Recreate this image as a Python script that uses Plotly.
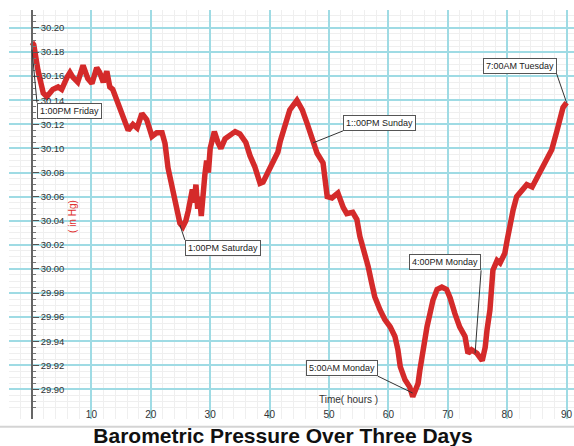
import plotly.graph_objects as go

# ---- data ----
hours = [0.0, 0.3, 1.0, 1.9, 2.5, 3.0, 3.5, 4.4, 5.0, 5.9, 6.4, 6.9, 7.7, 8.6, 9.4,
         10.1, 10.9, 11.4, 12.0, 12.6, 13.1, 13.6, 14.3, 14.8, 15.7, 16.2, 17.0,
         17.7, 18.5, 19.3, 20.2, 21.0, 21.9, 22.4, 22.9, 23.7, 24.6, 24.9, 25.4,
         25.9, 26.3, 26.7, 27.0, 27.3, 27.6, 27.9, 28.2, 28.5, 28.8, 29.1, 29.4,
         29.7, 30.0, 30.3, 30.7, 31.3, 31.8, 32.5, 33.3, 34.2, 35.0, 35.5, 36.0,
         36.7, 37.5, 38.4, 38.9, 39.7, 40.6, 41.4, 41.8, 42.6, 43.4, 44.6, 45.5,
         46.3, 47.1, 47.6, 48.0, 49.0, 49.3, 49.7, 50.5, 51.5, 52.4, 53.0, 54.0,
         54.7, 55.2, 56.1, 56.6, 57.2, 57.7, 58.6, 59.4, 60.3, 61.1, 61.6, 62.0,
         62.8, 63.6, 64.1, 64.5, 65.0, 65.3, 65.8, 66.5, 67.0, 67.5, 68.2, 69.0,
         69.8, 70.4, 71.2, 72.0, 72.9, 73.4, 74.0, 74.9, 75.8, 76.3, 76.6, 77.1,
         77.6, 78.3, 78.8, 79.6, 80.0, 80.5, 81.0, 81.6, 82.5, 83.3, 84.2, 85.0,
         85.9, 86.7, 87.5, 88.4, 88.9, 89.4, 90.0]
pressure = [30.188, 30.186, 30.165, 30.146, 30.143, 30.147, 30.149, 30.151, 30.149,
            30.159, 30.163, 30.159, 30.155, 30.169, 30.158, 30.154, 30.167, 30.163,
            30.155, 30.164, 30.151, 30.149, 30.140, 30.132, 30.121, 30.115, 30.120,
            30.117, 30.129, 30.124, 30.110, 30.113, 30.113, 30.104, 30.084, 30.066,
            30.049, 30.038, 30.035, 30.040, 30.048, 30.058, 30.066, 30.055, 30.070,
            30.050, 30.060, 30.044, 30.068, 30.078, 30.090, 30.080, 30.100, 30.108,
            30.114, 30.105, 30.100, 30.108, 30.111, 30.114, 30.112, 30.109, 30.105,
            30.094, 30.085, 30.071, 30.072, 30.080, 30.088, 30.097, 30.106, 30.118,
            30.132, 30.140, 30.132, 30.121, 30.110, 30.101, 30.096, 30.088, 30.076,
            30.060, 30.059, 30.063, 30.051, 30.046, 30.047, 30.041, 30.027, 30.013,
            30.002, 29.988, 29.977, 29.966, 29.958, 29.952, 29.944, 29.933, 29.919,
            29.908, 29.902, 29.894, 29.900, 29.905, 29.916, 29.933, 29.952, 29.963,
            29.974, 29.983, 29.985, 29.983, 29.976, 29.963, 29.952, 29.944, 29.930,
            29.933, 29.930, 29.924, 29.935, 29.949, 29.966, 29.999, 30.007, 30.005,
            30.013, 30.024, 30.038, 30.049, 30.060, 30.066, 30.070, 30.068, 30.076,
            30.085, 30.093, 30.099, 30.115, 30.126, 30.134, 30.138]

x_tick_values = [10, 20, 30, 40, 50, 60, 70, 80, 90]

event_labels = ["1:00PM Friday", "1:00PM Saturday", "1::00PM Sunday",
                "5:00AM Monday", "4:00PM Monday", "7:00AM Tuesday"]
event_hours = [0.0, 24.9, 47.3, 64.1, 74.6, 90.0]
event_values = [30.182, 30.0365, 30.1046, 29.897, 29.930, 30.138]

title_text = "Barometric Pressure Over Three Days"

# ---- figure ----
X_MIN, X_MAX = -3.87, 91.25
Y_MIN, Y_MAX = 29.8755, 30.2149

fig = go.Figure()
fig.add_trace(go.Scatter(x=hours, y=pressure, mode="lines",
                         line=dict(color="#d42a2a", width=5.5),
                         hoverinfo="skip", showlegend=False))

# annotation box placement (tail offsets in px + anchors)
ann_style = [
    dict(ax=5, ay=53, xanchor="left", yanchor="top"),
    dict(ax=5, ay=15, xanchor="left", yanchor="top"),
    dict(ax=30, ay=-12, xanchor="left", yanchor="bottom"),
    dict(ax=-35, ay=-17, xanchor="right", yanchor="bottom"),
    dict(ax=6, ay=-83, xanchor="right", yanchor="bottom"),
    dict(ax=-10, ay=-29, xanchor="right", yanchor="bottom"),
]
for lab, hx, vy, st in zip(event_labels, event_hours, event_values, ann_style):
    fig.add_annotation(x=hx, y=vy, xref="x", yref="y", text=lab,
                       showarrow=True, arrowhead=0, arrowwidth=1, arrowcolor="#333",
                       ax=st["ax"], ay=st["ay"], xanchor=st["xanchor"], yanchor=st["yanchor"],
                       bgcolor="white", bordercolor="#555", borderwidth=1, borderpad=2,
                       font=dict(family="Liberation Sans, Arial", size=9, color="#222"))

# axis titles
fig.add_annotation(x=0.1133, y=0.494, xref="paper", yref="paper", text="( in Hg)",
                   textangle=-90, showarrow=False, xanchor="center", yanchor="middle",
                   font=dict(family="Liberation Sans, Arial", size=10, color="#e03030"))
fig.add_annotation(x=0.60, y=0.0465, xref="paper", yref="paper", text="Time( hours )",
                   showarrow=False, xanchor="center", yanchor="middle",
                   font=dict(family="Liberation Sans, Arial", size=10, color="#333"))

# separator line below plot
fig.add_shape(type="rect", xref="paper", yref="paper", x0=-0.02, x1=1.0,
              y0=-0.0215, y1=-0.0165, fillcolor="#d4d4d4", line=dict(width=0))

grid_major = "#9fdbe4"
grid_minor = "#efefef"

fig.update_layout(
    width=574, height=446,
    margin=dict(l=9, r=0, t=10, b=27),
    paper_bgcolor="white", plot_bgcolor="white",
    title=dict(text="<b>" + title_text + "</b>", x=0.493, xref="container",
               y=0.024, yref="container", xanchor="center", yanchor="middle",
               font=dict(family="Liberation Sans, Arial", size=21, color="#111")),
    font=dict(family="Liberation Sans, Arial", color="#333"),
    xaxis=dict(range=[X_MIN, X_MAX], tickmode="array", tickvals=x_tick_values,
               ticktext=[str(v) for v in x_tick_values],
               showgrid=True, gridcolor=grid_major, gridwidth=1.5,
               zeroline=False, showline=False,
               ticks="", ticklabelposition="inside", ticklabelstandoff=-4,
               tickfont=dict(size=10, color="#333"),
               minor=dict(tickmode="linear", tick0=0, dtick=2, showgrid=True,
                          gridcolor=grid_minor, gridwidth=1)),
    yaxis=dict(range=[Y_MIN, Y_MAX], tickmode="linear", tick0=29.88, dtick=0.02,
               tickformat=".2f", anchor="free", position=3.87 / (X_MAX - X_MIN),
               side="right", showline=True, linecolor="#666", linewidth=1.5,
               ticks="outside", ticklen=6, tickcolor="#555",
               showgrid=True, gridcolor=grid_major, gridwidth=1.5,
               zeroline=False,
               tickfont=dict(size=9.5, color="#333"),
               minor=dict(tickmode="linear", tick0=29.88, dtick=0.005, showgrid=True,
                          gridcolor=grid_minor, gridwidth=1, ticks="outside",
                          ticklen=3, tickcolor="#777")),
)

fig.write_html("out.html", config={"displayModeBar": False},
               post_script="document.body.style.margin='0';document.body.style.overflow='hidden';")
